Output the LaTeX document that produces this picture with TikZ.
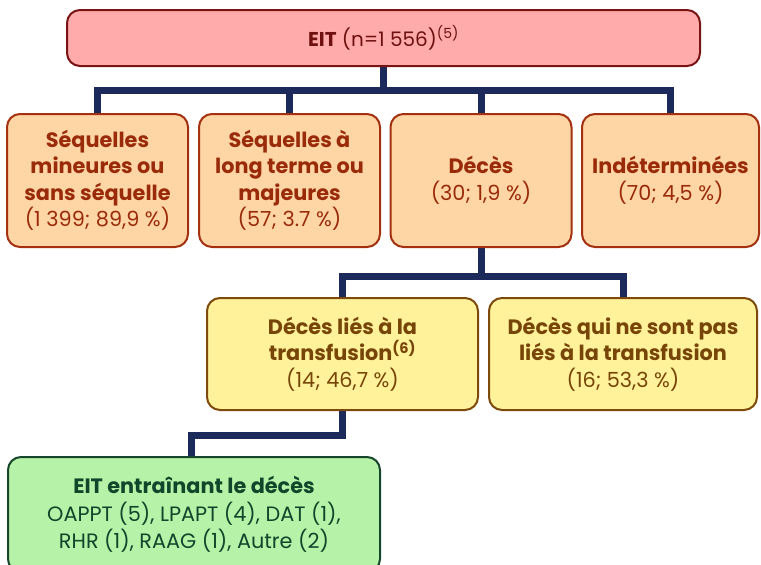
\documentclass[tikz,border=0pt]{standalone}
\usepackage{fontspec}
\setmainfont{Poppins}
\usetikzlibrary{backgrounds}
\definecolor{eitfill}{HTML}{FFABAB}
\definecolor{eitdraw}{HTML}{7A1414}
\definecolor{eittext}{HTML}{6E1010}
\definecolor{pfill}{HTML}{FED5A5}
\definecolor{pdraw}{HTML}{A3300E}
\definecolor{ptext}{HTML}{9A2B0A}
\definecolor{yfill}{HTML}{FFF29A}
\definecolor{ydraw}{HTML}{7E4A0C}
\definecolor{ytext}{HTML}{774507}
\definecolor{gfill}{HTML}{B6F2A8}
\definecolor{gdraw}{HTML}{17472B}
\definecolor{gtext}{HTML}{0F472A}
\definecolor{navy}{HTML}{1B2A5A}
\tikzset{
  box/.style={draw, rounded corners=13pt, line width=2pt, align=center, inner sep=0pt,
    font=\fontsize{20.8}{26.5}\selectfont},
  eitbox/.style={box, fill=eitfill, draw=eitdraw, text=eittext, minimum width=633pt, minimum height=56pt,
    font=\fontsize{20}{26}\selectfont},
  pbox/.style={box, fill=pfill, draw=pdraw, text=ptext, minimum width=181pt, minimum height=133pt},
  ybox/.style={box, fill=yfill, draw=ydraw, text=ytext, minimum height=112pt},
  gbox/.style={box, fill=gfill, draw=gdraw, text=gtext, minimum width=372pt, minimum height=115pt,
    font=\fontsize{20.8}{27.5}\selectfont},
  conn/.style={draw=navy, line width=7pt, line join=miter}
}
\begin{document}
\begin{tikzpicture}[x=1pt,y=-1pt]
\useasboundingbox (0,0) rectangle (761,565);
\clip (0,0) rectangle (761,565);
\node[eitbox] (eit) at (383.5,38) {\textbf{EIT} (n=1~556)\textsuperscript{(5)}};
\node[pbox] (b1) at (97.5,180.5) {\textbf{Séquelles}\\\textbf{mineures ou}\\\textbf{sans séquelle}\\(1~399; 89,9~\%)};
\node[pbox] (b2) at (289.5,180.5) {\textbf{Séquelles à}\\\textbf{long terme ou}\\\textbf{majeures}\\(57; 3.7~\%)};
\node[pbox] (b3) at (481,180.5) {\textbf{Décès}\\(30; 1,9~\%)};
\node[pbox, minimum width=177pt] (b4) at (670.5,180.5) {\textbf{Indéterminées}\\(70; 4,5~\%)};
\node[ybox, minimum width=271pt] (y1) at (342.5,354) {\textbf{Décès liés à la}\\\textbf{transfusion\textsuperscript{(6)}}\\(14; 46,7~\%)};
\node[ybox, minimum width=268pt] (y2) at (623,354) {\textbf{Décès qui ne sont pas}\\\textbf{liés à la transfusion}\\(16; 53,3~\%)};
\node[gbox] (g) at (194,514.5) {\textbf{EIT entraînant le décès}\\OAPPT (5), LPAPT (4), DAT (1),\\RHR (1), RAAG (1), Autre (2)};
\coordinate (bus1) at (0,90);
\coordinate (bus2) at (0,276);
\coordinate (bus3) at (0,435);
\begin{scope}[on background layer]
\draw[conn] (b1.north) -- (b1.north |- bus1) -- (b4.north |- bus1) -- (b4.north);
\draw[conn] (eit.south) -- (eit.south |- bus1);
\draw[conn] (b2.north) -- (b2.north |- bus1);
\draw[conn] (b3.north) -- (b3.north |- bus1);
\draw[conn] (b3.south) -- (b3.south |- bus2);
\draw[conn] (y1.north) -- (y1.north |- bus2) -- (y2.north |- bus2) -- (y2.north);
\draw[conn] (y1.south) -- (y1.south |- bus3) -- ([xshift=-3pt]g.north |- bus3) -- ([xshift=-3pt]g.north);
\end{scope}
\end{tikzpicture}
\end{document}
